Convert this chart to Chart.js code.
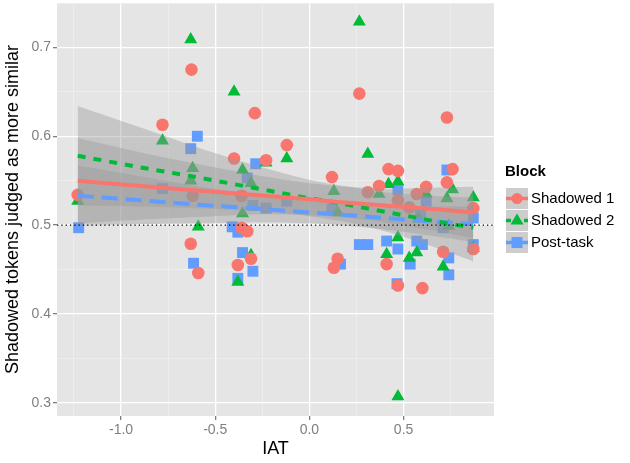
<!DOCTYPE html>
<html><head><meta charset="utf-8">
<script src="https://cdn.jsdelivr.net/npm/chart.js@4.4.1/dist/chart.umd.min.js"></script>
<style>html,body{margin:0;padding:0;background:#fff;}canvas{display:block;}</style>
</head><body>
<canvas id="c" width="630" height="463"></canvas>
<script>
// ---- data ----
const s1X = [-1.23,-0.626,-0.78,-0.62,-0.29,-0.40,-0.23,-0.12,0.12,-0.36,0.265,0.73,0.42,0.47,0.76,0.73,0.37,0.31,0.57,0.62,0.47,0.53,0.87,0.71,0.41,0.47,0.60,0.87,-0.36,-0.33,-0.63,-0.59,-0.38,-0.31,0.15,0.13];
const s1Y = [0.534,0.675,0.613,0.533,0.626,0.575,0.573,0.59,0.554,0.533,0.648,0.621,0.563,0.561,0.563,0.548,0.544,0.537,0.535,0.543,0.528,0.52,0.519,0.47,0.456,0.432,0.429,0.473,0.497,0.493,0.479,0.446,0.455,0.462,0.462,0.452];
const s2X = [-0.63,-0.78,-1.23,-0.62,-0.63,-0.40,-0.23,-0.12,-0.355,-0.31,0.13,0.15,-0.355,0.265,0.31,0.42,0.47,0.37,0.62,0.76,0.73,0.87,0.58,0.47,0.41,0.53,0.57,0.71,0.87,0.47,0.74,-0.59,-0.31,-0.38];
const s2Y = [0.709,0.595,0.527,0.564,0.55,0.65,0.57,0.575,0.562,0.547,0.538,0.514,0.513,0.729,0.58,0.546,0.549,0.535,0.535,0.54,0.53,0.531,0.507,0.486,0.467,0.463,0.469,0.453,0.474,0.307,0.499,0.498,0.466,0.436];
const s3X = [-1.225,-0.595,-0.63,-0.78,-0.285,-0.33,-0.30,-0.23,-0.12,0.12,0.73,0.47,0.62,0.59,0.87,0.265,0.31,0.41,0.47,0.535,0.57,0.60,0.74,0.74,0.465,0.87,0.71,-0.41,-0.38,-0.355,-0.30,-0.38,-0.615,0.165];
const s3Y = [0.497,0.60,0.586,0.541,0.569,0.553,0.522,0.519,0.527,0.518,0.562,0.54,0.527,0.512,0.508,0.478,0.478,0.482,0.473,0.456,0.482,0.478,0.463,0.444,0.434,0.478,0.497,0.498,0.492,0.469,0.448,0.44,0.457,0.456];

// fitted lines and confidence bands (read at these IAT positions)
const bandX = [-1.23,-0.9,-0.6,-0.3,0,0.15,0.4,0.65,0.87];
const fit1 = [0.550,0.544,0.539,0.534,0.529,0.526,0.522,0.518,0.514];
const up1  = [0.598,0.582,0.569,0.557,0.547,0.544,0.541,0.542,0.543];
const lo1  = [0.502,0.506,0.509,0.512,0.511,0.509,0.503,0.494,0.485];
const fit2 = [0.578,0.565,0.554,0.542,0.530,0.525,0.515,0.505,0.497];
const up2  = [0.634,0.610,0.588,0.568,0.551,0.545,0.537,0.533,0.531];
const lo2  = [0.522,0.521,0.519,0.516,0.510,0.505,0.493,0.476,0.459];
const fit3 = [0.533,0.528,0.523,0.519,0.514,0.512,0.508,0.504,0.501];
const up3  = [0.567,0.555,0.544,0.535,0.527,0.524,0.522,0.521,0.521];
const lo3  = [0.499,0.501,0.502,0.503,0.502,0.500,0.495,0.488,0.481];

const seriesNames = ['Shadowed 1','Shadowed 2','Post-task'];
const xTicks = [-1.25,-1,-0.75,-0.5,-0.25,0,0.25,0.5,0.75];
const yTicks = [0.3,0.35,0.4,0.45,0.5,0.55,0.6,0.65,0.7,0.75];
const refLineY = 0.5;

// ---- styling ----
const RED='#F8766D', GREEN='#00BA38', BLUE='#619CFF';
const BAND='rgba(153,153,153,0.4)';
const XMIN=-1.34, XMAX=0.98, YMIN=0.285, YMAX=0.75;
const FONT='"Liberation Sans", Arial, sans-serif';
const pts=(xs,ys)=>xs.map((x,i)=>({x:x,y:ys[i]}));
const majX=v=>Math.abs(v*2-Math.round(v*2))<1e-6;
const majY=v=>Math.abs(v*10-Math.round(v*10))<1e-6;

function pointSet(label,xs,ys,color,style,r){
  return {label:label,data:pts(xs,ys),showLine:false,pointStyle:style,pointRadius:r,pointHoverRadius:r,
    backgroundColor:color,borderColor:color,borderWidth:0,order:10};
}
function bandSet(ys,fill){
  return {data:pts(bandX,ys),showLine:true,pointRadius:0,borderWidth:0,borderColor:'rgba(0,0,0,0)',
    backgroundColor:BAND,fill:fill,tension:0.3,order:5};
}
function lineSet(ys,color,dash){
  return {data:pts(bandX,ys),showLine:true,pointRadius:0,borderWidth:4,borderColor:color,borderDash:dash,
    fill:false,tension:0,order:1,borderCapStyle:'butt'};
}

const datasets=[
  pointSet(seriesNames[0],s1X,s1Y,RED,'circle',6.3),
  pointSet(seriesNames[1],s2X,s2Y,GREEN,'triangle',7.5),
  pointSet(seriesNames[2],s3X,s3Y,BLUE,'rect',7.7),
  bandSet(up1,'+1'), bandSet(lo1,false),
  bandSet(up2,'+1'), bandSet(lo2,false),
  bandSet(up3,'+1'), bandSet(lo3,false),
  lineSet(fit1,RED,[]),
  lineSet(fit2,GREEN,[8,8]),
  lineSet(fit3,BLUE,[16,8]),
  {data:[{x:XMIN,y:refLineY},{x:XMAX,y:refLineY}],showLine:true,pointRadius:0,borderWidth:1.3,
   borderColor:'#000',borderDash:[1.3,3],fill:false,order:0}
];

const panelBg={id:'panelBg',beforeDraw(c){const a=c.chartArea,ctx=c.ctx;ctx.save();ctx.fillStyle='#E5E5E5';
  ctx.fillRect(a.left,a.top,a.right-a.left,a.bottom-a.top);ctx.restore();}};

const legendPlugin={id:'legendKeys',afterDraw(c){
  const ctx=c.ctx; ctx.save();
  ctx.fillStyle='#000'; ctx.font='bold 15px '+FONT;
  ctx.textBaseline='middle'; ctx.textAlign='left';
  ctx.fillText('Block',505,172);
  const cols=[RED,GREEN,BLUE], dashes=[[],[5,4],[9,4]], styles=['circle','triangle','rect'];
  const kx=506,kw=22,kh=22,ky0=188;
  for(let i=0;i<3;i++){
    const y=ky0+i*kh;
    ctx.fillStyle='#CDCDCD'; ctx.fillRect(kx,y,kw,kh-1);
    const cy=y+kh/2-0.5;
    ctx.strokeStyle=cols[i]; ctx.lineWidth=3.5; ctx.setLineDash(dashes[i]);
    ctx.beginPath(); ctx.moveTo(kx,cy); ctx.lineTo(kx+kw,cy); ctx.stroke(); ctx.setLineDash([]);
    ctx.fillStyle=cols[i];
    const cx=kx+kw/2;
    if(styles[i]==='circle'){ctx.beginPath();ctx.arc(cx,cy,5.5,0,Math.PI*2);ctx.fill();}
    else if(styles[i]==='triangle'){ctx.beginPath();ctx.moveTo(cx,cy-7);ctx.lineTo(cx+6.5,cy+4);ctx.lineTo(cx-6.5,cy+4);ctx.closePath();ctx.fill();}
    else {ctx.fillRect(cx-5.5,cy-5.5,11,11);}
    ctx.fillStyle='#000'; ctx.font='15px '+FONT;
    ctx.fillText(seriesNames[i],531,cy);
  }
  ctx.restore();
}};

const tickFont={family:FONT,size:14};
new Chart(document.getElementById('c'),{
  type:'line',
  data:{datasets:datasets},
  options:{
    responsive:false,animation:false,
    layout:{autoPadding:false,padding:{left:0,right:136,top:3,bottom:0}},
    plugins:{legend:{display:false},tooltip:{enabled:false}},
    scales:{
      x:{type:'linear',min:XMIN,max:XMAX,
        afterBuildTicks:s=>{s.ticks=xTicks.map(v=>({value:v}));},
        afterFit:s=>{s.height=47;s.paddingLeft=0;s.paddingRight=0;},
        ticks:{autoSkip:false,maxRotation:0,color:'#7F7F7F',font:tickFont,padding:2,
          callback:v=>majX(v)?v.toFixed(1):''},
        grid:{color:c=>(c.tick&&majX(c.tick.value))?'#FFFFFF':'#F2F2F2',
          lineWidth:c=>(c.tick&&majX(c.tick.value))?1.3:0.6,
          tickColor:c=>(c.tick&&majX(c.tick.value))?'#7F7F7F':'rgba(0,0,0,0)',
          tickLength:4,drawTicks:true},
        border:{display:false},
        title:{display:true,text:'IAT',color:'#000',font:{family:FONT,size:18},padding:{top:0,bottom:3}}
      },
      y:{type:'linear',min:YMIN,max:YMAX,
        afterBuildTicks:s=>{s.ticks=yTicks.map(v=>({value:v}));},
        afterFit:s=>{s.width=57;s.paddingTop=0;s.paddingBottom=0;},
        ticks:{autoSkip:false,color:'#7F7F7F',font:tickFont,padding:2,
          callback:v=>majY(v)?v.toFixed(1):''},
        grid:{color:c=>(c.tick&&majY(c.tick.value))?'#FFFFFF':'#F2F2F2',
          lineWidth:c=>(c.tick&&majY(c.tick.value))?1.3:0.6,
          tickColor:c=>(c.tick&&majY(c.tick.value))?'#7F7F7F':'rgba(0,0,0,0)',
          tickLength:4,drawTicks:true},
        border:{display:false},
        title:{display:true,text:'Shadowed tokens judged as more similar',color:'#000',
          font:{family:FONT,size:18},padding:{top:2,bottom:0}}
      }
    }
  },
  plugins:[panelBg,legendPlugin]
});
</script>
</body></html>
